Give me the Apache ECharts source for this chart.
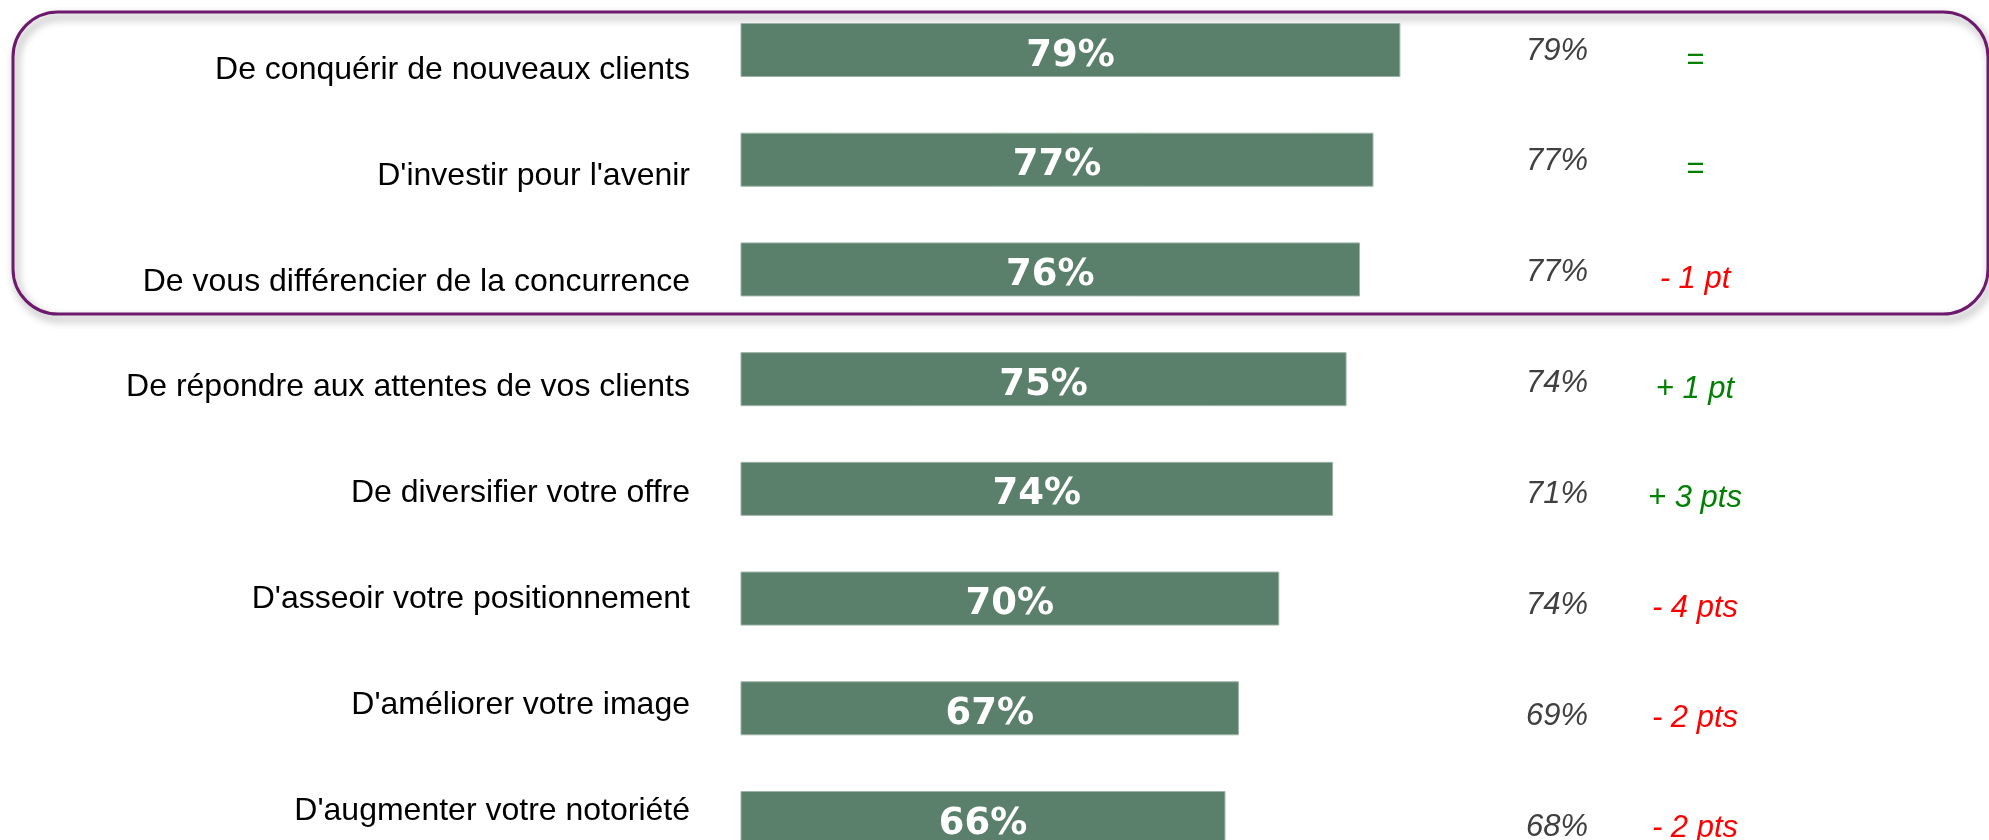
<!DOCTYPE html>
<html>
<head>
<meta charset="utf-8">
<script src="https://cdn.jsdelivr.net/npm/echarts@6/dist/echarts.min.js"></script>
<style>
  html, body { margin: 0; padding: 0; background: #ffffff; }
  #chart { width: 1989px; height: 840px; }
</style>
</head>
<body>
<div id="chart"></div>
<script>
// Motivations, current wave vs previous wave
const categories = [
  "De conquérir de nouveaux clients",
  "D'investir pour l'avenir",
  "De vous différencier de la concurrence",
  "De répondre aux attentes de vos clients",
  "De diversifier votre offre",
  "D'asseoir votre positionnement",
  "D'améliorer votre image",
  "D'augmenter votre notoriété"
];
const currentValues = [79, 77, 76, 75, 74, 70, 67, 66];
const previousValues = [79, 77, 77, 74, 71, 74, 69, 68];

// Change in points between the two waves, as printed in the last column
function deltaText(cur, prev) {
  const d = cur - prev;
  if (d === 0) return '{eq|=}';
  const n = Math.abs(d);
  const unit = n > 1 ? 'pts' : 'pt';
  return d > 0 ? '{up|+ ' + n + ' ' + unit + '}' : '{down|- ' + n + ' ' + unit + '}';
}
const deltaLabels = currentValues.map((v, i) => deltaText(v, previousValues[i]));
const previousLabels = previousValues.map(v => v + '%');

const chart = echarts.init(document.getElementById('chart'), null, { renderer: 'canvas' });

const hiddenAxis = { show: false, min: 0, max: 1 };
const bareCategory = {
  type: 'category',
  inverse: true,
  boundaryGap: false,
  axisLine: { show: false },
  axisTick: { show: false },
  splitLine: { show: false }
};
const italic = { fontFamily: 'Liberation Sans', fontStyle: 'italic', fontSize: 31 };
const freeGrid = { outerBoundsMode: 'none', containLabel: false };

chart.setOption({
  animation: false,
  backgroundColor: '#ffffff',
  graphic: [{
    type: 'rect',
    z: -10,
    shape: { x: 13, y: 12, width: 1975, height: 302, r: 45 },
    style: {
      fill: 'rgba(0,0,0,0)',
      stroke: '#6d1a6d',
      lineWidth: 3,
      shadowBlur: 8,
      shadowOffsetX: 3,
      shadowOffsetY: 5,
      shadowColor: 'rgba(0,0,0,0.45)'
    }
  }],
  grid: [
    Object.assign({ left: 741, width: 942, top: 50, height: 768 }, freeGrid),   // bars
    Object.assign({ left: 1557, width: 1, top: 51, height: 776 }, freeGrid),   // previous wave
    Object.assign({ left: 1695, width: 1, top: 60, height: 768 }, freeGrid),   // change
    Object.assign({ left: 741, width: 1, top: 70, height: 741 }, freeGrid)     // item names
  ],
  xAxis: [
    { gridIndex: 0, type: 'value', min: 30, max: 100, show: false },
    Object.assign({ gridIndex: 1, type: 'value' }, hiddenAxis),
    Object.assign({ gridIndex: 2, type: 'value' }, hiddenAxis),
    Object.assign({ gridIndex: 3, type: 'value' }, hiddenAxis)
  ],
  yAxis: [
    Object.assign({}, bareCategory, {
      gridIndex: 0,
      data: categories,
      axisLabel: { show: false }
    }),
    Object.assign({}, bareCategory, {
      gridIndex: 1,
      data: previousLabels,
      axisLabel: Object.assign({ margin: 0, align: 'center', color: '#404040' }, italic)
    }),
    Object.assign({}, bareCategory, {
      gridIndex: 2,
      data: deltaLabels,
      axisLabel: {
        margin: 0,
        align: 'center',
        formatter: v => v,
        rich: {
          eq: Object.assign({ color: '#008000' }, italic),
          up: Object.assign({ color: '#008000' }, italic),
          down: Object.assign({ color: '#ff0000' }, italic)
        }
      }
    }),
    Object.assign({}, bareCategory, {
      gridIndex: 3,
      data: categories,
      axisLabel: {
        margin: 51,
        color: '#000000',
        fontFamily: 'Liberation Sans',
        fontSize: 32
      }
    })
  ],
  series: [{
    type: 'bar',
    xAxisIndex: 0,
    yAxisIndex: 0,
    data: currentValues,
    barWidth: 54,
    itemStyle: {
      color: '#5a7f6b',
      borderColor: '#9db3a6',
      borderWidth: 1
    },
    label: {
      show: true,
      position: 'inside',
      offset: [0, 6],
      formatter: '{c}%',
      color: '#ffffff',
      fontFamily: 'DejaVu Sans',
      fontWeight: 'bold',
      fontSize: 37
    }
  }]
});
</script>
</body>
</html>
